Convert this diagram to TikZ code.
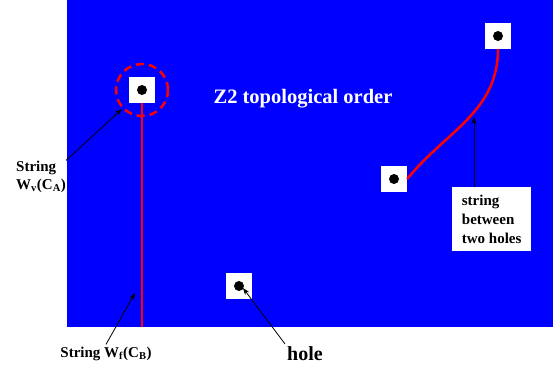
\documentclass[tikz,border=0pt]{standalone}
\usepackage{fontspec}
\setmainfont{Liberation Serif}
\usepackage{tikz}
\usetikzlibrary{arrows.meta,positioning,calc}
\definecolor{planeblue}{RGB}{0,0,255}
\definecolor{stringred}{RGB}{255,0,0}

\begin{document}
\begin{tikzpicture}[
    x=1pt, y=-1pt,
    holebox/.style={rectangle, fill=white, minimum size=26pt, inner sep=0pt},
    string/.style={stringred, line width=2.5pt},
    arrow/.style={-{Stealth[length=7pt,width=5pt]}, line width=0.8pt, black},
    lbl/.style={font=\fontsize{15}{18}\selectfont\bfseries, inner sep=0pt}
]
    \useasboundingbox (0,0) rectangle (560,376);
    \node[fill=planeblue, minimum width=486pt, minimum height=327pt, anchor=north west, inner sep=0pt] (plane) at (67,0) {};
    \node[white, font=\fontsize{20.5}{24}\selectfont\bfseries] (title) at (303,99) {Z2 topological order};

    % holes
    \node[holebox] (hA) at (142,90) {};
    \node[holebox] (hB) at (498,36) {};
    \node[holebox] (hC) at (394,179) {};
    \node[holebox] (hD) at (239,286) {};
    \foreach \h in {hA,hB,hC,hD}
        \fill (\h) circle (5pt);

    % strings
    \draw[string] (hA.south) -- (hA.south |- plane.south);
    \draw[string, dash pattern=on 8pt off 5pt] (hA) circle (26pt);
    \draw[string] (hC.east) .. controls (445,132) and (498,112) .. (hB.south);

    % labels
    \node[lbl, align=left, anchor=base west] (lblA) at (16,189) {String\\W\textsubscript{v}(C\textsubscript{A})};
    \node[lbl, anchor=base, inner sep=2pt] (lblB) at (106,357) {String W\textsubscript{f}(C\textsubscript{B})};
    \node[font=\fontsize{20}{24}\selectfont\bfseries, anchor=base west, inner sep=2pt] (lblH) at (285,360) {hole};
    \node[fill=white, anchor=north west, align=left, minimum width=79pt, minimum height=64pt,
          font=\fontsize{15}{19}\selectfont\bfseries] (box) at (452,187) {string\\between\\two holes};

    \coordinate (tipA) at (122,109);
    \coordinate (tipB) at (135,293);
    \coordinate (tipH) at (243,288);
    \coordinate (tipS) at (474,117);

    \draw[arrow] (lblA.north east) -- (tipA);
    \draw[arrow] (lblB.north) -- (tipB);
    \draw[arrow] (lblH.north west) -- (tipH);
    \draw[arrow] (box.north -| tipS) -- (tipS);
\end{tikzpicture}
\end{document}
